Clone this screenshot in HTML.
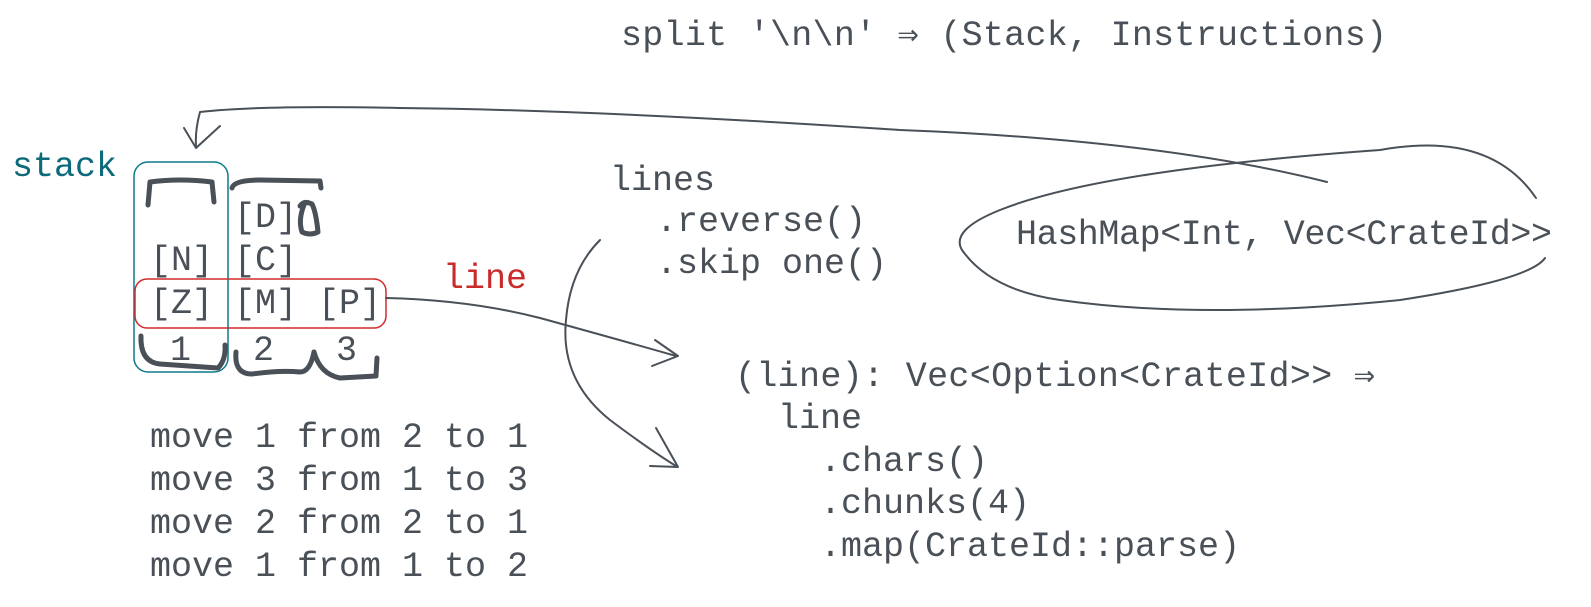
<!DOCTYPE html>
<html><head><meta charset="utf-8"><style>
body{margin:0;background:#fff;width:1591px;height:602px;overflow:hidden}
svg text{font-family:"Liberation Mono","DejaVu Sans Mono",monospace;font-size:35px;fill:#495057}
</style></head><body>
<svg width="1591" height="602" viewBox="0 0 1591 602" xmlns="http://www.w3.org/2000/svg">
<g fill="none" stroke-linecap="round" stroke-linejoin="round">
<rect x="134" y="162" width="94" height="210" rx="14" stroke="#0c7a8a" stroke-width="1.5"/>
<rect x="135" y="279" width="251" height="49" rx="12" stroke="#d12b2b" stroke-width="1.5"/>
<g stroke="#495057" stroke-width="5">
<path d="M148 205 L150 182 Q180 178 212 182 L214 202"/>
<path d="M232 188 Q234 180 260 180 L320 181 L321 188"/>
<path d="M304 205 Q298 220 302 232 Q310 236 318 232 Q316 212 312 204 Q304 200 300 206"/>
<path d="M141 336 Q140 362 160 364 L218 368 Q226 360 225 345"/>
<path d="M236 352 Q234 374 252 374 Q280 370 300 372 Q310 372 314 352"/>
<path d="M314 352 Q320 374 340 378 L376 376 L377 358"/>
</g>
<g stroke="#495057" stroke-width="2">
<path d="M1327 182 Q1160 140 900 130 Q600 110 400 108 Q260 105 200 112 Q195 130 196 146"/>
<path d="M184 128 L196 148 L220 126"/>
<path d="M1536 198 Q1490 130 1380 150 Q1100 170 1000 210 Q950 230 962 250 Q990 290 1060 300 Q1200 320 1400 300 Q1530 280 1545 258"/>
<path d="M386 298 Q470 300 540 318 Q620 340 676 356"/>
<path d="M655 340 L678 356 L652 366"/>
<path d="M600 240 Q570 270 566 320 Q560 380 610 420 Q650 450 676 466"/>
<path d="M656 428 L678 467 L650 466"/>
</g>
</g>
<text x="621" y="45" textLength="766">split '\n\n' ⇒ (Stack, Instructions)</text>
<text x="12" y="176" style="fill:#0c6a7a">stack</text>
<text x="610" y="190">lines</text>
<text x="656" y="231">.reverse()</text>
<text x="656" y="273">.skip one()</text>
<text x="443" y="288" style="fill:#c92a2a">line</text>
<text x="1016" y="244" textLength="536">HashMap&lt;Int, Vec&lt;CrateId&gt;&gt;</text>
<text x="234" y="227">[D]</text>
<text x="150" y="270">[N] [C]</text>
<text x="150" y="313">[Z] [M] [P]</text>
<text x="170" y="360">1</text>
<text x="253" y="360">2</text>
<text x="336" y="360">3</text>
<text x="735" y="386" textLength="640">(line): Vec&lt;Option&lt;CrateId&gt;&gt; ⇒</text>
<text x="778" y="428">line</text>
<text x="820" y="471">.chars()</text>
<text x="820" y="513">.chunks(4)</text>
<text x="820" y="556">.map(CrateId::parse)</text>
<text x="150" y="447">move 1 from 2 to 1</text>
<text x="150" y="490">move 3 from 1 to 3</text>
<text x="150" y="533">move 2 from 2 to 1</text>
<text x="150" y="576">move 1 from 1 to 2</text>
</svg>
</body></html>
